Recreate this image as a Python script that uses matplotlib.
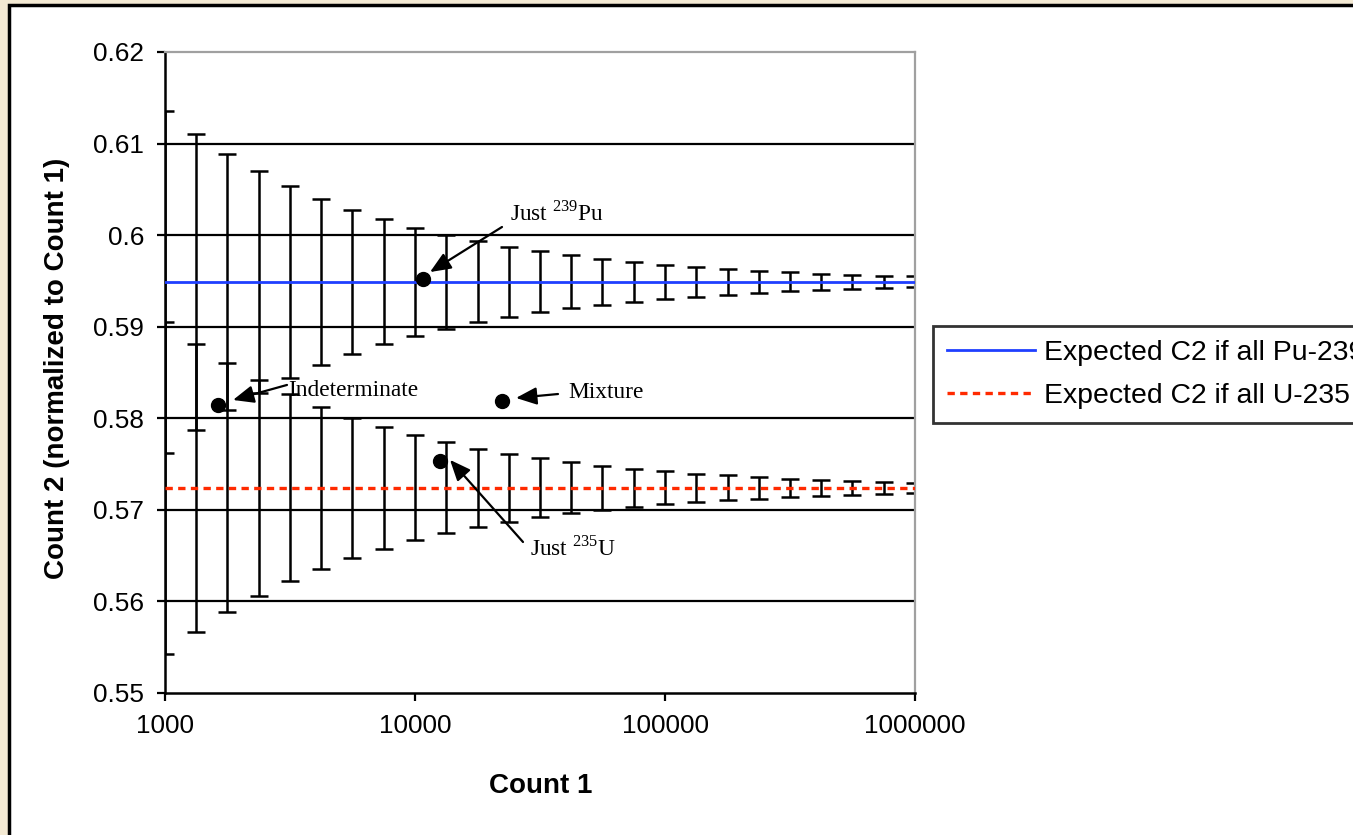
import matplotlib
matplotlib.use("Agg")
import matplotlib.pyplot as plt
from matplotlib.patches import Rectangle
from matplotlib.ticker import FixedLocator, NullLocator

# ---------------- data ----------------
count1 = [1000, 1334, 1778, 2371, 3162, 4217, 5623, 7499, 10000, 13335, 17783,
          23714, 31623, 42170, 56234, 74989, 100000, 133352, 177828, 237137,
          316228, 421697, 562341, 749894, 1000000]
pu_expected = 0.5949
u_expected = 0.5724
pu_err = [0.01867, 0.01617, 0.01400, 0.01213, 0.01050, 0.00909, 0.00788, 0.00682,
          0.00591, 0.00512, 0.00443, 0.00384, 0.00332, 0.00288, 0.00249, 0.00216,
          0.00187, 0.00162, 0.00140, 0.00121, 0.00105, 0.00091, 0.00079, 0.00068,
          0.00059]
u_err = [0.01810, 0.01570, 0.01360, 0.01180, 0.01020, 0.00882, 0.00764, 0.00662,
         0.00573, 0.00497, 0.00430, 0.00372, 0.00322, 0.00279, 0.00242, 0.00210,
         0.00181, 0.00157, 0.00136, 0.00117, 0.00102, 0.00088, 0.00077, 0.00066,
         0.00057]
sample_names = ["Indeterminate", "Just Pu", "Mixture", "Just U"]
sample_x = [1629, 10765, 22284, 12589]
sample_y = [0.58145, 0.59521, 0.58189, 0.57533]

y_ticks = [0.55, 0.56, 0.57, 0.58, 0.59, 0.60, 0.61, 0.62]
y_tick_labels = ["0.55", "0.56", "0.57", "0.58", "0.59", "0.6", "0.61", "0.62"]
x_ticks = [1000, 10000, 100000, 1000000]
x_tick_labels = ["1000", "10000", "100000", "1000000"]
legend_labels = ["Expected C2 if all Pu-239", "Expected C2 if all U-235"]

# ---------------- figure ----------------
W, H = 1353, 835
fig = plt.figure(figsize=(W / 100, H / 100), dpi=100)
fig.patch.set_facecolor("#F4EAD4")
panel = Rectangle((9 / W, -0.05), 1.2, 1 - 5 / H + 0.05, transform=fig.transFigure,
                  facecolor="white", edgecolor="black", linewidth=2.5, zorder=-10)
fig.patches.append(panel)

ax = fig.add_axes([165 / W, 1 - 693 / H, 750 / W, 641 / H])
ax.set_facecolor("white")
ax.set_xscale("log")
ax.set_xlim(1000, 1000000)
ax.set_ylim(0.55, 0.62)

for v in y_ticks[1:-1]:
    ax.axhline(v, color="black", lw=1.6, zorder=1)

n = len(count1)
ax.errorbar(count1, [pu_expected] * n, yerr=pu_err, fmt="none", ecolor="black",
            elinewidth=1.8, capsize=6.2, capthick=1.8, zorder=2)
ax.errorbar(count1, [u_expected] * n, yerr=u_err, fmt="none", ecolor="black",
            elinewidth=1.8, capsize=6.2, capthick=1.8, zorder=2)
l1, = ax.plot(count1, [pu_expected] * n, color="#1F3FFF", lw=2.0, zorder=3)
l2, = ax.plot(count1, [u_expected] * n, color="#FF2A00", lw=2.4,
              linestyle=(0, (2.2, 1.6)), zorder=3)

ax.plot(sample_x, sample_y, "o", color="black", markersize=10, zorder=4, clip_on=False)

# annotations
serif = "Liberation Serif"
arrow_kw = dict(arrowstyle="-|>,head_length=0.9,head_width=0.38", color="black",
                lw=1.6, shrinkA=0, shrinkB=0, mutation_scale=14)
ax.annotate("", xy=(11482, 0.59597), xytext=(22284, 0.60089), arrowprops=arrow_kw)
ax.annotate("", xy=(1871, 0.58200), xytext=(3076, 0.58364), arrowprops=arrow_kw)
ax.annotate("", xy=(25351, 0.58222), xytext=(37325, 0.58265), arrowprops=arrow_kw)
ax.annotate("", xy=(13804, 0.57546), xytext=(27040, 0.56649), arrowprops=arrow_kw)

ax.text(23988, 0.60242, r"Just $^{\mathregular{239}}$Pu", family=serif, fontsize=16.8,
        va="center", ha="left")
ax.text(3105, 0.58298, "Indeterminate", family=serif, fontsize=16.8,
        va="center", ha="left")
ax.text(40926, 0.58287, "Mixture", family=serif, fontsize=16.8,
        va="center", ha="left")
ax.text(28840, 0.56583, r"Just $^{\mathregular{235}}$U", family=serif, fontsize=16.8,
        va="center", ha="left")

# axes styling
sans = "Liberation Sans"
ax.yaxis.set_major_locator(FixedLocator(y_ticks))
ax.set_yticklabels(y_tick_labels)
ax.xaxis.set_major_locator(FixedLocator(x_ticks))
ax.xaxis.set_minor_locator(NullLocator())
ax.set_xticklabels(x_tick_labels)
ax.tick_params(axis="both", which="major", direction="out", length=6, width=1.6,
               color="black", labelsize=18.8, pad=9)
for lab in ax.get_xticklabels() + ax.get_yticklabels():
    lab.set_family(sans)

ax.spines["left"].set_color("black")
ax.spines["left"].set_linewidth(1.8)
ax.spines["bottom"].set_color("black")
ax.spines["bottom"].set_linewidth(1.8)
ax.spines["top"].set_color("#A0A0A0")
ax.spines["top"].set_linewidth(1.6)
ax.spines["right"].set_color("#A0A0A0")
ax.spines["right"].set_linewidth(1.6)

fig.text(57 / W, 1 - 368 / H, "Count 2 (normalized to Count 1)", rotation=90,
         family=sans, fontweight="bold", fontsize=20, ha="center", va="center")
fig.text(541 / W, 1 - 786 / H, "Count 1", family=sans, fontweight="bold",
         fontsize=20, ha="center", va="center")

leg = fig.legend([l1, l2], legend_labels, loc="upper left",
                 bbox_to_anchor=(933 / W, 1 - 326 / H), prop={"family": sans, "size": 20.4},
                 frameon=True, fancybox=False, handlelength=3.1, handletextpad=0.3,
                 labelspacing=0.6, borderpad=0.5, borderaxespad=0)
leg.get_frame().set_edgecolor("black")
leg.get_frame().set_linewidth(2.0)
leg.get_frame().set_facecolor("white")

fig.savefig("out.png", dpi=100, facecolor=fig.get_facecolor())
